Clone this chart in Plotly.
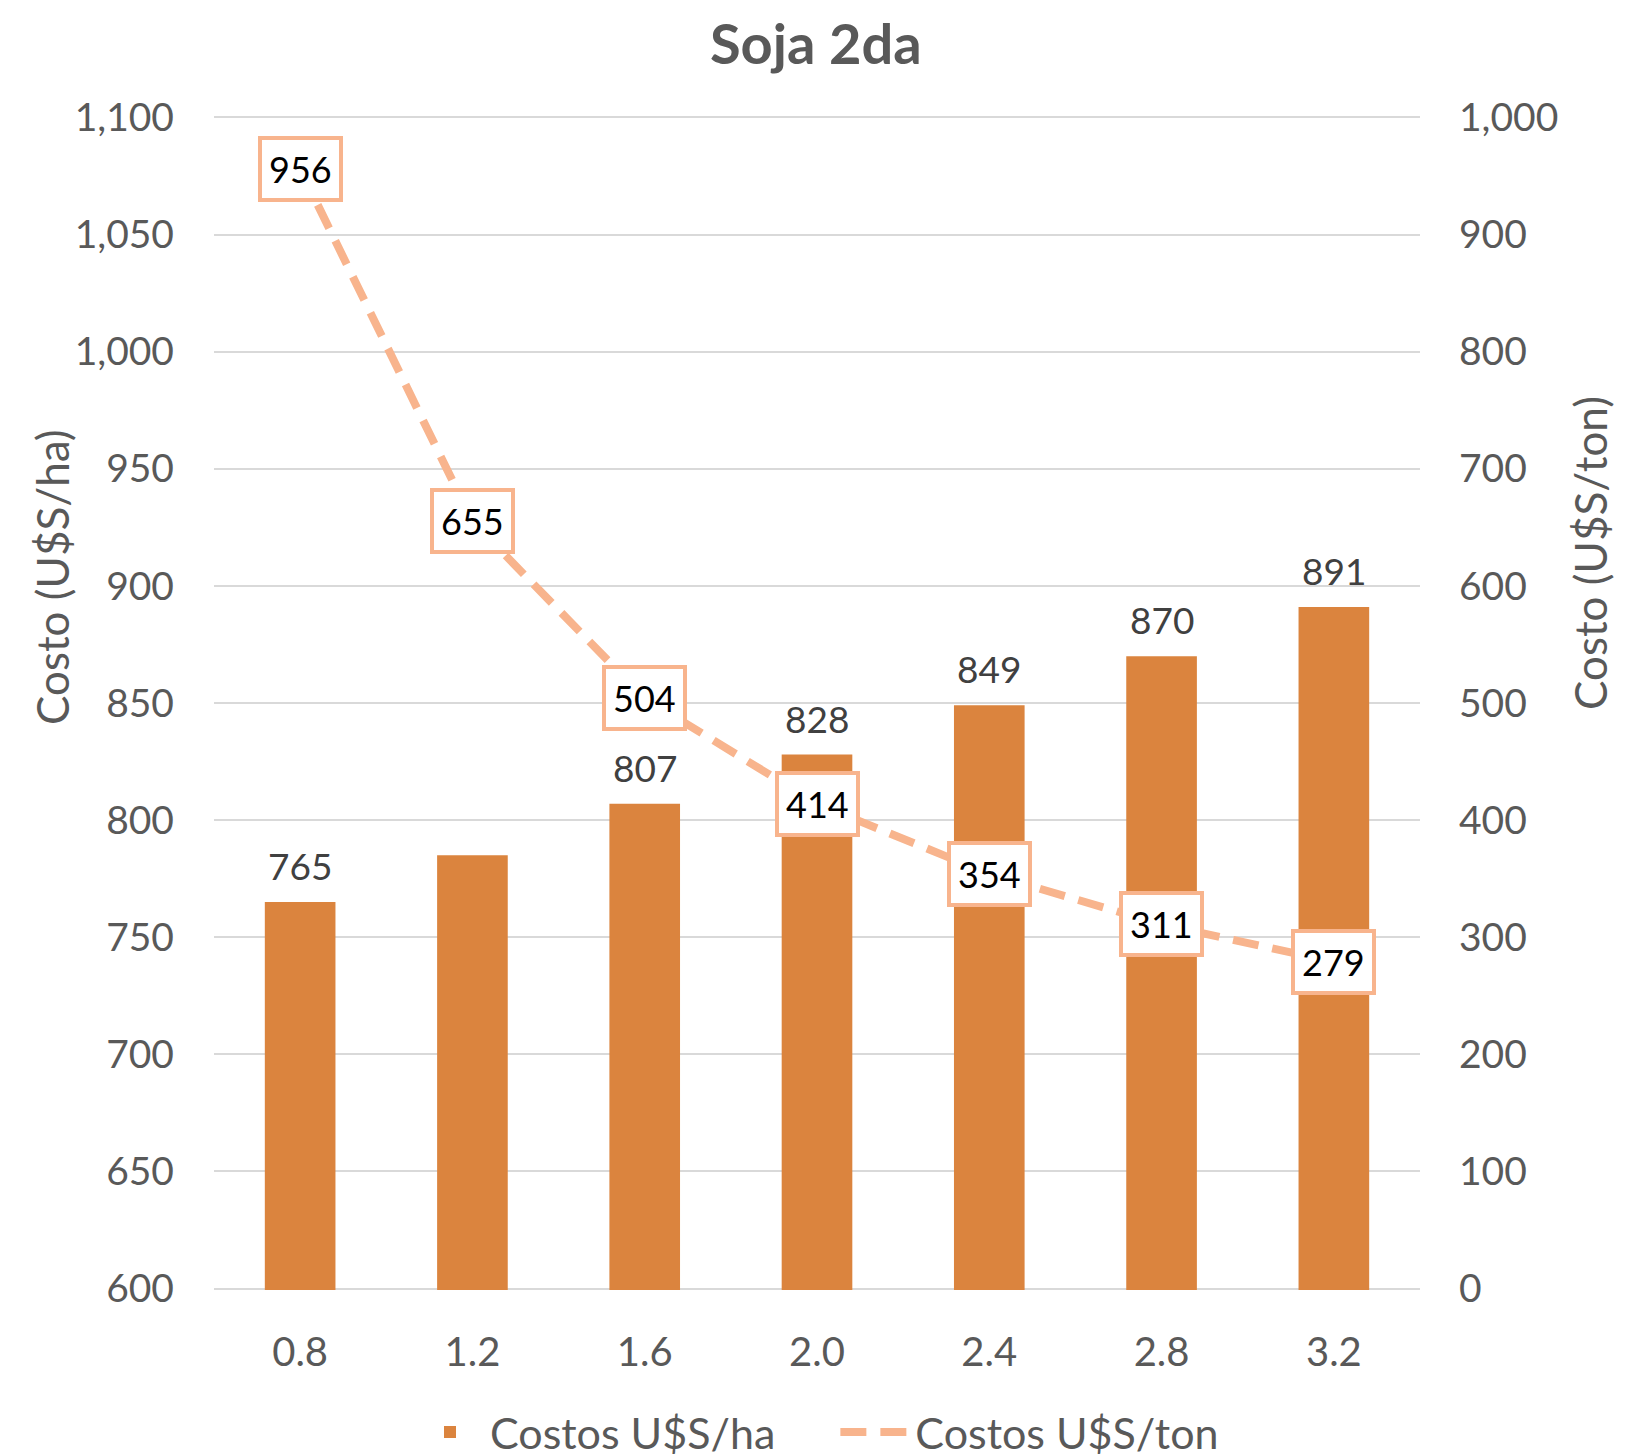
import plotly.graph_objects as go

categories = ["0.8", "1.2", "1.6", "2.0", "2.4", "2.8", "3.2"]
costos_ha = [765, 785, 807, 828, 849, 870, 891]
costos_ton = [956, 655, 504, 414, 354, 311, 279]
bar_label_shown = [True, False, True, True, True, True, True]
left_ticks = [600, 650, 700, 750, 800, 850, 900, 950, 1000, 1050, 1100]
right_ticks = [0, 100, 200, 300, 400, 500, 600, 700, 800, 900, 1000]

BAR = "#DB843E"
LINE = "#F8B48D"
GREY = "#595959"
FONT = "Lato"

# plot area in figure pixels (page has an 8px body margin)
L, R, T, B = 206, 1412, 108, 1282

fig = go.Figure()
fig.add_trace(go.Bar(
    x=categories, y=costos_ha, name="Costos U$S/ha" + "\u00a0" * 5,
    marker=dict(color=BAR, line=dict(width=0)),
))
fig.add_trace(go.Scatter(
    x=categories, y=costos_ton, name="Costos U$S/ton", yaxis="y2",
    mode="lines", line=dict(color=LINE, width=8, dash="26px,14px"),
))
for i, (v, s) in enumerate(zip(costos_ha, bar_label_shown)):
    if s:
        fig.add_annotation(x=i, y=v, text=f"{v}", showarrow=False, yanchor="bottom", yshift=12,
                           font=dict(family=FONT, size=37, color="#404040"))
for i, v in enumerate(costos_ton):
    fig.add_annotation(x=i, y=v, yref="y2", text=f"{v}", showarrow=False,
                       xanchor="center", yanchor="middle",
                       font=dict(family=FONT, size=36, color="#000000"),
                       bgcolor="white", bordercolor=LINE, borderwidth=4, borderpad=7)

fig.add_annotation(x=(44 - L) / (R - L), y=(B - 569) / (B - T), xref="paper", yref="paper",
                   text="Costo (U$S/ha)", showarrow=False, textangle=-90,
                   xanchor="center", yanchor="middle",
                   font=dict(family=FONT, size=44, color=GREY))
fig.add_annotation(x=(1582 - L) / (R - L), y=(B - 545) / (B - T), xref="paper", yref="paper",
                   text="Costo (U$S/ton)", showarrow=False, textangle=-90,
                   xanchor="center", yanchor="middle",
                   font=dict(family=FONT, size=44, color=GREY))

fig.update_layout(
    width=1652, height=1456,
    margin=dict(l=L, r=1652 - R, t=T, b=1456 - B, autoexpand=False),
    paper_bgcolor="white", plot_bgcolor="white",
    title=dict(text="<b>Soja 2da</b>", x=0.489, xanchor="center", y=1 - 36 / 1456, yanchor="middle",
               font=dict(family=FONT, size=56, color=GREY)),
    bargap=0.59,
    showlegend=True,
    legend=dict(orientation="h", x=0.5, xanchor="center", yref="container", y=1 - 1424 / 1456,
                yanchor="middle",
                font=dict(family=FONT, size=43, color=GREY), itemwidth=70, traceorder="normal"),
    xaxis=dict(type="category", showgrid=False, showline=False, ticks="",
               tickfont=dict(family=FONT, size=40, color=GREY), ticklabelstandoff=35),
    yaxis=dict(range=[599.4, 1100.6], tickvals=left_ticks, tickformat=",", showgrid=True,
               gridcolor="#D9D9D9", gridwidth=2, zeroline=False, showline=False,
               tickfont=dict(family=FONT, size=39, color=GREY), ticklabelstandoff=39),
    yaxis2=dict(range=[-1.2, 1001.2], tickvals=right_ticks, tickformat=",", overlaying="y", side="right",
                showgrid=False, zeroline=False, showline=False,
                tickfont=dict(family=FONT, size=39, color=GREY), ticklabelstandoff=38),
)

fig.write_html("out.html")
